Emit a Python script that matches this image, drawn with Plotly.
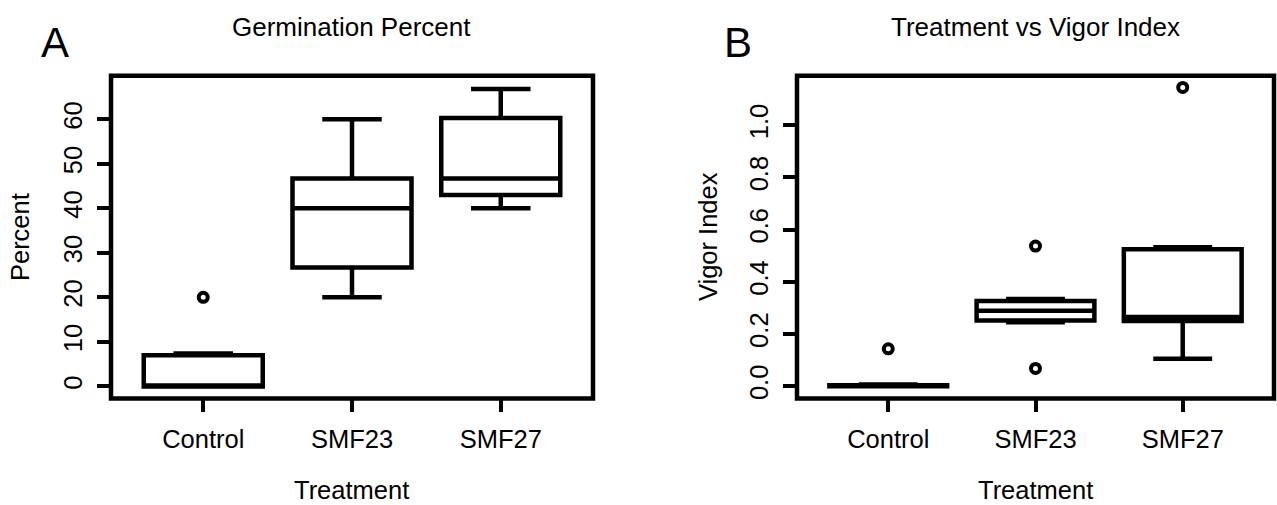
import plotly.graph_objects as go

categories = ["Control", "SMF23", "SMF27"]
cat_pos = [1, 2, 3]

# Panel A: Germination Percent (box statistics)
germ_q1 = [0.0, 26.7, 43.0]
germ_median = [0.0, 40.0, 46.7]
germ_q3 = [7.0, 46.7, 60.3]
germ_lower = [0.0, 20.0, 40.0]
germ_upper = [7.4, 60.0, 66.8]
germ_out_x = [1]
germ_out_y = [20.0]

# Panel B: Vigor Index
vig_q1 = [0.0, 0.252, 0.250]
vig_median = [0.0, 0.289, 0.265]
vig_q3 = [0.003, 0.326, 0.525]
vig_lower = [0.0, 0.245, 0.105]
vig_upper = [0.006, 0.334, 0.532]
vig_out_x = [1, 2, 2, 3]
vig_out_y = [0.143, 0.537, 0.068, 1.145]

germ_ticks = [0, 10, 20, 30, 40, 50, 60]
vig_ticks = [0.0, 0.2, 0.4, 0.6, 0.8, 1.0]

FONT = "Liberation Sans, Arial, Helvetica, sans-serif"
W, H = 1277, 505

fig = go.Figure()

box_style = dict(line=dict(color="black", width=4.5), fillcolor="white",
                 whiskerwidth=0.5, width=0.8, boxpoints=False, showlegend=False,
                 hoverinfo="skip")
out_marker = dict(symbol="circle-open", size=9, color="black",
                  line=dict(width=4, color="black"))

fig.add_trace(go.Box(x=cat_pos, q1=germ_q1, median=germ_median, q3=germ_q3,
                     lowerfence=germ_lower, upperfence=germ_upper,
                     xaxis="x", yaxis="y", **box_style))
fig.add_trace(go.Scatter(x=germ_out_x, y=germ_out_y, mode="markers", xaxis="x", yaxis="y",
                         marker=out_marker, showlegend=False, hoverinfo="skip"))
fig.add_trace(go.Box(x=cat_pos, q1=vig_q1, median=vig_median, q3=vig_q3,
                     lowerfence=vig_lower, upperfence=vig_upper,
                     xaxis="x2", yaxis="y2", **box_style))
fig.add_trace(go.Scatter(x=vig_out_x, y=vig_out_y, mode="markers", xaxis="x2", yaxis="y2",
                         marker=out_marker, showlegend=False, hoverinfo="skip"))

def px_x(p):
    return p / W

def px_y(p):
    return 1 - p / H

axis_common = dict(showgrid=False, zeroline=False, showline=False, ticks="outside",
                   ticklen=13, tickwidth=4, tickcolor="black",
                   tickfont=dict(family=FONT, size=25.5, color="black"))

fig.update_layout(
    width=W, height=H,
    margin=dict(l=0, r=0, t=0, b=0),
    paper_bgcolor="white", plot_bgcolor="white",
    xaxis=dict(domain=[px_x(111), px_x(593)], range=[0.38, 3.62], tickvals=cat_pos,
               ticktext=categories, anchor="y", ticklabelstandoff=5, **axis_common),
    yaxis=dict(domain=[px_y(400), px_y(76)], range=[-2.7, 69.8], tickvals=germ_ticks,
               ticktext=[str(t) for t in germ_ticks], tickangle=-90, anchor="x",
               ticklabelstandoff=5, **axis_common),
    xaxis2=dict(domain=[px_x(797), px_x(1274)], range=[0.38, 3.62], tickvals=cat_pos,
                ticktext=categories, anchor="y2", ticklabelstandoff=5, **axis_common),
    yaxis2=dict(domain=[px_y(400), px_y(76)], range=[-0.047, 1.19], tickvals=vig_ticks,
                ticktext=["%.1f" % t for t in vig_ticks], tickangle=-90, anchor="x2",
                ticklabelstandoff=5, **axis_common),
)

# frame boxes
for xr, yr in [("x domain", "y domain"), ("x2 domain", "y2 domain")]:
    fig.add_shape(type="rect", xref=xr, yref=yr, x0=0, x1=1, y0=0, y1=1,
                  line=dict(color="black", width=4.5), layer="above")

def ann(text, x, y, size, angle=0):
    fig.add_annotation(text=text, x=px_x(x), y=px_y(y), xref="paper", yref="paper",
                       showarrow=False, xanchor="center", yanchor="middle",
                       textangle=angle, font=dict(family=FONT, size=size, color="black"))

ann("Germination Percent", 351, 27, 26)
ann("Treatment vs Vigor Index", 1035, 27, 26)
ann("A", 55, 43, 42)
ann("B", 738, 43, 42)
ann("Treatment", 351, 492, 25.5)
ann("Treatment", 1035, 492, 25.5)
ann("Percent", 20, 238, 25.5, -90)
ann("Vigor Index", 708, 238, 25.5, -90)

fig.write_html("out.html", config={"displayModeBar": False},
               post_script="document.body.style.margin='0';document.body.style.padding='0';"
                           "document.body.style.overflow='hidden';")
